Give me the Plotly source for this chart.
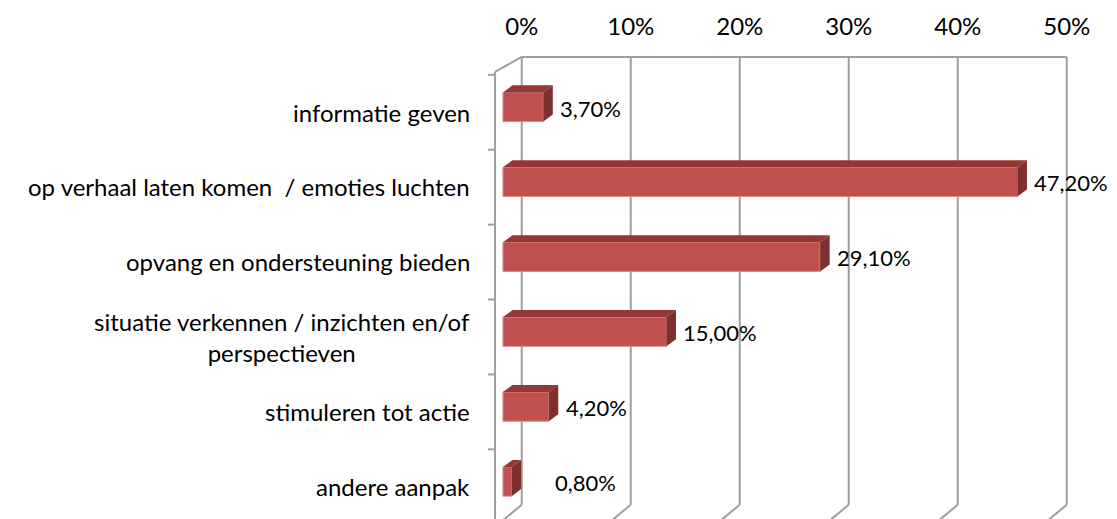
import plotly.graph_objects as go

categories = [
    "informatie geven",
    "op verhaal laten komen  / emoties luchten",
    "opvang en ondersteuning bieden",
    "situatie verkennen / inzichten en/of<br>perspectieven",
    "stimuleren tot actie",
    "andere aanpak",
]
values = [3.7, 47.2, 29.1, 15.0, 4.2, 0.8]
value_labels = ["3,70%", "47,20%", "29,10%", "15,00%", "4,20%", "0,80%"]
tick_values = [0, 10, 20, 30, 40, 50]
tick_labels = ["0%", "10%", "20%", "30%", "40%", "50%"]

FONT = "Lato"
FONT_SIZE = 24
LABEL_SIZE = 22
FRONT = "#C0504D"
TOP = "#943836"
SIDE = "#7E302E"
GRID = "#9E9E9E"

# 3d look: depth offsets in data units (x in %, y in category steps)
BAR_W = 0.39
BAR_DX = 0.87
BAR_DY = -0.094
BACK_DX = 1.72
WALL_X = -0.73
Y_TOP = -0.668
Y_FLOOR = 5.31
Y_BOTTOM = 5.50
FOOT_DX = -2.0

W, H = 1109, 511  # page adds an 8px body margin

pos = list(range(len(categories)))

fig = go.Figure()

# front faces
fig.add_trace(go.Bar(
    x=values, y=pos, orientation="h", width=BAR_W,
    marker=dict(color=FRONT, line=dict(color="#D98A88", width=1)),
    hoverinfo="skip", showlegend=False,
))

# top and side faces
top_x, top_y, side_x, side_y = [], [], [], []
for i, v in zip(pos, values):
    y0 = i - BAR_W / 2
    y1 = i + BAR_W / 2
    top_x += [0, v, v + BAR_DX, BAR_DX, 0, None]
    top_y += [y0, y0, y0 + BAR_DY, y0 + BAR_DY, y0, None]
    side_x += [v, v + BAR_DX, v + BAR_DX, v, v, None]
    side_y += [y0, y0 + BAR_DY, y1 + BAR_DY, y1, y0, None]
fig.add_trace(go.Scatter(x=top_x, y=top_y, fill="toself", fillcolor=TOP,
                         mode="lines", line=dict(width=0), hoverinfo="skip", showlegend=False))
fig.add_trace(go.Scatter(x=side_x, y=side_y, fill="toself", fillcolor=SIDE,
                         mode="lines", line=dict(width=0), hoverinfo="skip", showlegend=False))

# back wall gridlines with floor feet
shapes = []
line = dict(color=GRID, width=2)
for t in tick_values:
    xb = t + BACK_DX
    shapes.append(dict(type="line", xref="x", yref="y", x0=xb, x1=xb, y0=Y_TOP, y1=Y_FLOOR,
                       line=line, layer="below"))
    shapes.append(dict(type="line", xref="x", yref="y", x0=xb, x1=xb + FOOT_DX, y0=Y_FLOOR,
                       y1=Y_BOTTOM + 0.05, line=line, layer="below"))
shapes.append(dict(type="line", xref="x", yref="y", x0=BACK_DX, x1=tick_values[-1] + BACK_DX,
                   y0=Y_TOP, y1=Y_TOP, line=line, layer="below"))
# side wall
shapes.append(dict(type="line", xref="x", yref="y", x0=WALL_X, x1=WALL_X, y0=-0.47, y1=Y_BOTTOM + 0.05,
                   line=line, layer="below"))
shapes.append(dict(type="line", xref="x", yref="y", x0=WALL_X, x1=BACK_DX, y0=-0.47, y1=Y_TOP,
                   line=line, layer="below"))
for k in range(len(categories)):
    yt = k - 0.43
    shapes.append(dict(type="line", xref="x", yref="y", x0=WALL_X - 0.65, x1=WALL_X, y0=yt, y1=yt,
                       line=line, layer="below"))

annotations = []
for i, cat in zip(pos, categories):
    annotations.append(dict(
        text=cat, x=464 / W, xref="paper", xanchor="right", y=i, yref="y",
        yshift=-5, align="center", showarrow=False,
        font=dict(family=FONT, size=FONT_SIZE, color="#000000"),
    ))
for i, v, lab in zip(pos, values, value_labels):
    annotations.append(dict(
        text=lab, x=max(v, 3.2), xref="x", xanchor="left", xshift=15, y=i, yref="y",
        yshift=-1, showarrow=False,
        font=dict(family=FONT, size=LABEL_SIZE, color="#000000"),
    ))

fig.update_layout(
    width=W, height=H,
    margin=dict(l=0, r=0, t=42, b=0),
    paper_bgcolor="white", plot_bgcolor="white",
    shapes=shapes, annotations=annotations,
    xaxis=dict(range=[-45.41, 56.33], side="top", showgrid=False, zeroline=False,
               tickvals=[t + BACK_DX for t in tick_values], ticktext=tick_labels,
               ticks="", ticklabelstandoff=9,
               tickfont=dict(family=FONT, size=FONT_SIZE, color="#000000")),
    yaxis=dict(range=[Y_BOTTOM, -0.761], showgrid=False, zeroline=False,
               showticklabels=False, ticks=""),
)

fig.write_html("out.html")
